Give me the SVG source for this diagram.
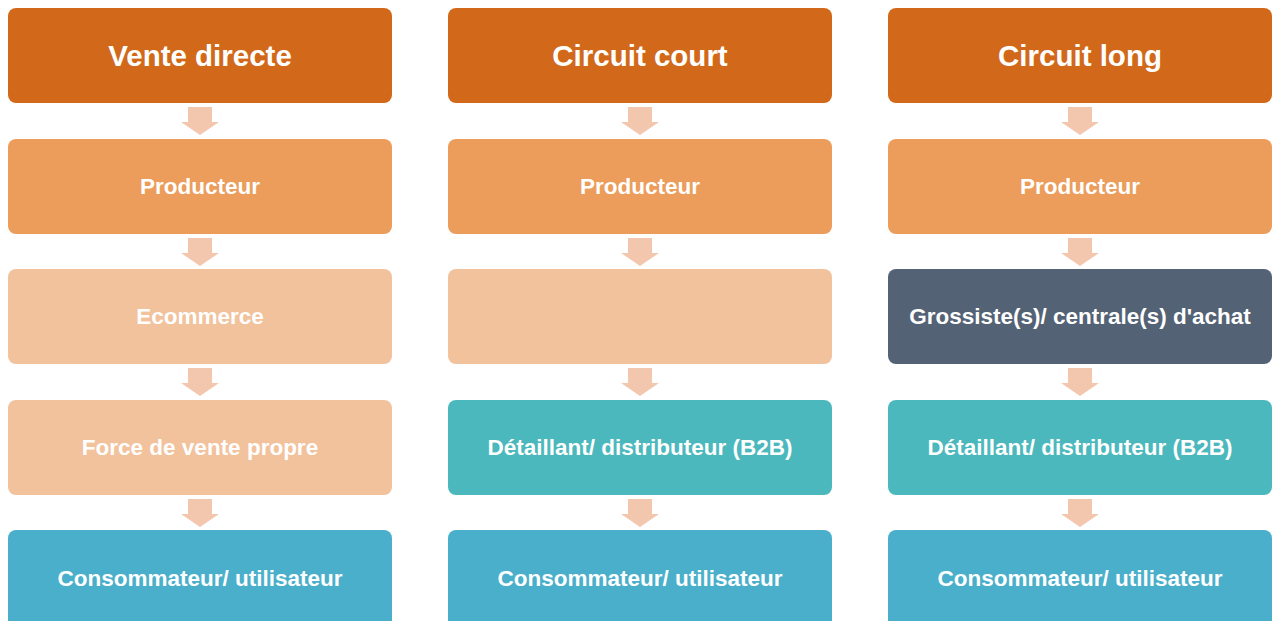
<svg xmlns="http://www.w3.org/2000/svg" width="1272" height="621" viewBox="0 0 1272 621">
<style>
.hd{fill:#D2691A}
.pr{fill:#EC9C5B}
.lt{fill:#F2C29D}
.gr{fill:#546275}
.tl{fill:#4AB8BC}
.bl{fill:#4AAFCA}
.t{font-family:"Liberation Sans",Arial,sans-serif;font-weight:bold;fill:#FFFFFF;text-anchor:middle;font-size:22.5px}
.th{font-family:"Liberation Sans",Arial,sans-serif;font-weight:bold;fill:#FFFFFF;text-anchor:middle;font-size:29.5px}
.ar{fill:#F3C7AE}
</style>
<rect width="1272" height="621" fill="#FFFFFF"/>
<g id="vd-head"><rect class="hd" x="8" y="8" width="384" height="95" rx="8"/><text class="th" x="200" y="66">Vente directe</text></g>
<g id="vd-prod"><rect class="pr" x="8" y="139" width="384" height="95" rx="8"/><text class="t" x="200" y="194">Producteur</text></g>
<g id="vd-ecom"><rect class="lt" x="8" y="269" width="384" height="95" rx="8"/><text class="t" x="200" y="324">Ecommerce</text></g>
<g id="vd-force"><rect class="lt" x="8" y="400" width="384" height="95" rx="8"/><text class="t" x="200" y="455">Force de vente propre</text></g>
<g id="vd-cons"><rect class="bl" x="8" y="530" width="384" height="100" rx="8"/><text class="t" x="200" y="586">Consommateur/ utilisateur</text></g>

<g id="cc-head"><rect class="hd" x="448" y="8" width="384" height="95" rx="8"/><text class="th" x="640" y="66">Circuit court</text></g>
<g id="cc-prod"><rect class="pr" x="448" y="139" width="384" height="95" rx="8"/><text class="t" x="640" y="194">Producteur</text></g>
<g id="cc-empty"><rect class="lt" x="448" y="269" width="384" height="95" rx="8"/></g>
<g id="cc-det"><rect class="tl" x="448" y="400" width="384" height="95" rx="8"/><text class="t" x="640" y="455">Détaillant/ distributeur (B2B)</text></g>
<g id="cc-cons"><rect class="bl" x="448" y="530" width="384" height="100" rx="8"/><text class="t" x="640" y="586">Consommateur/ utilisateur</text></g>

<g id="cl-head"><rect class="hd" x="888" y="8" width="384" height="95" rx="8"/><text class="th" x="1080" y="66">Circuit long</text></g>
<g id="cl-prod"><rect class="pr" x="888" y="139" width="384" height="95" rx="8"/><text class="t" x="1080" y="194">Producteur</text></g>
<g id="cl-gros"><rect class="gr" x="888" y="269" width="384" height="95" rx="8"/><text class="t" x="1080" y="324">Grossiste(s)/ centrale(s) d'achat</text></g>
<g id="cl-det"><rect class="tl" x="888" y="400" width="384" height="95" rx="8"/><text class="t" x="1080" y="455">Détaillant/ distributeur (B2B)</text></g>
<g id="cl-cons"><rect class="bl" x="888" y="530" width="384" height="100" rx="8"/><text class="t" x="1080" y="586">Consommateur/ utilisateur</text></g>

<defs><path id="arr" d="M-12,0 H12 V15 H19 L0,28 L-19,15 H-12 Z"/></defs>
<g id="connectors" class="ar">
<use href="#arr" x="200" y="107"/><use href="#arr" x="200" y="238"/><use href="#arr" x="200" y="368"/><use href="#arr" x="200" y="499"/>
<use href="#arr" x="640" y="107"/><use href="#arr" x="640" y="238"/><use href="#arr" x="640" y="368"/><use href="#arr" x="640" y="499"/>
<use href="#arr" x="1080" y="107"/><use href="#arr" x="1080" y="238"/><use href="#arr" x="1080" y="368"/><use href="#arr" x="1080" y="499"/>
</g>
</svg>
